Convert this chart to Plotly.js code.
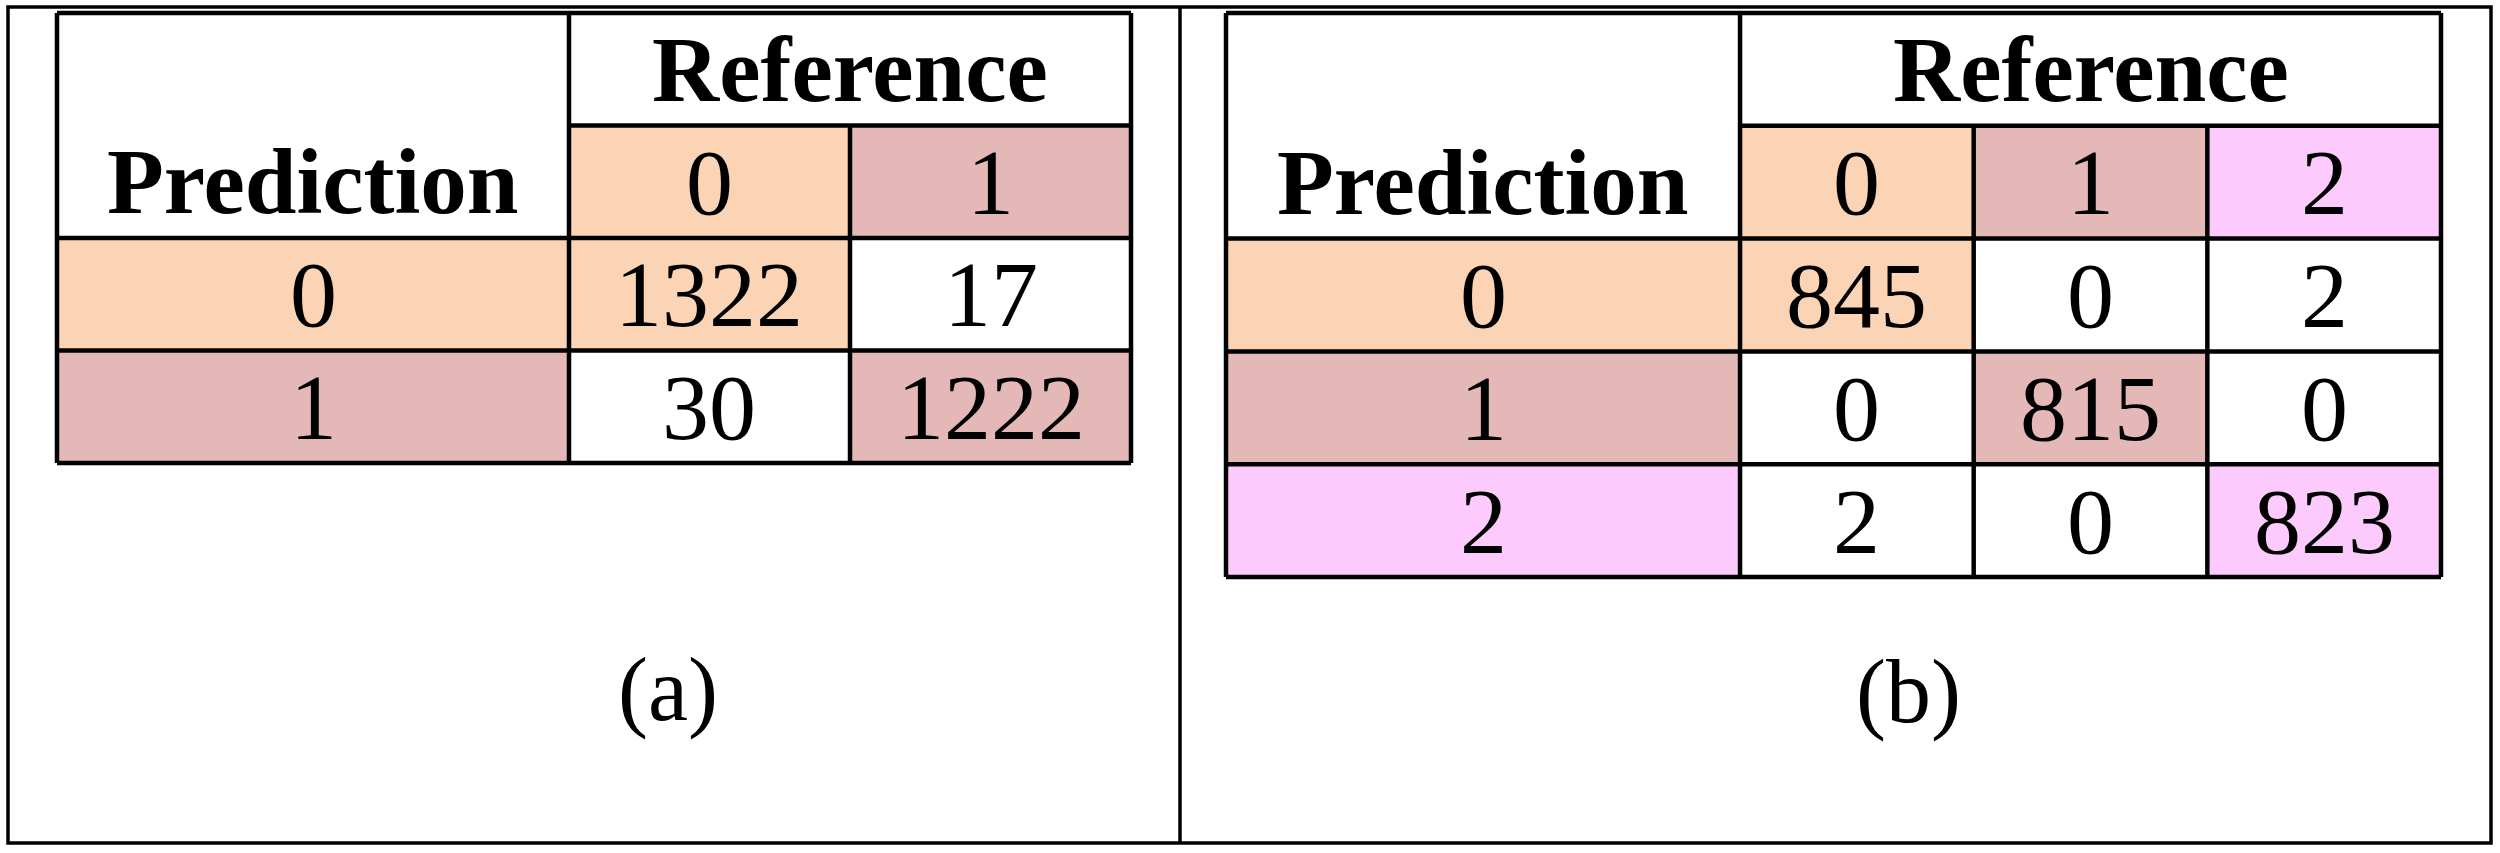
<!DOCTYPE html>
<html>
<head>
<meta charset="utf-8">
<script src="https://cdn.plot.ly/plotly-3.0.1.min.js"></script>
<style>
  html, body { margin: 0; padding: 0; background: #ffffff; }
  #chart { width: 2500px; height: 853px; }
</style>
</head>
<body>
<div id="chart"></div>
<script>
// ---------------- data ----------------
const classesA = ['0', '1'];
const matrixA = [
  [1322, 17],
  [30, 1222]
];
const classesB = ['0', '1', '2'];
const matrixB = [
  [845, 0, 2],
  [0, 815, 0],
  [2, 0, 823]
];
const classColors = ['#FAD4B4', '#E5B8B8', '#FCCAFC'];
const topHeader = 'Reference';
const sideHeader = 'Prediction';
const panelLabels = ['(a)', '(b)'];

// ---------------- layout constants ----------------
const W = 2500, H = 853;
const FONT = 'Liberation Serif';
const LINE_W = 4.5;
const PAD = 12; // px padding around table inside the axis domain

// table pixel boxes [x0, y0(top), x1, y1(bottom)] and label column width in class-column units
const tables = [
  { classes: classesA, matrix: matrixA, box: [57, 13, 1131, 463], labelW: 1.822, xa: 'x', ya: 'y', label: panelLabels[0], labelPos: [668, 690] },
  { classes: classesB, matrix: matrixB, box: [1226, 13, 2441, 577], labelW: 2.2, xa: 'x2', ya: 'y2', label: panelLabels[1], labelPos: [1909, 692] }
];

const shapes = [];
const annotations = [];
const layout = {
  width: W, height: H,
  margin: { l: 0, r: 0, t: 0, b: 0, pad: 0 },
  paper_bgcolor: '#ffffff',
  plot_bgcolor: 'rgba(0,0,0,0)',
  showlegend: false,
  hovermode: false,
  font: { family: FONT, color: '#000000' }
};

const fills = [];
const lines = [];

tables.forEach((t, ti) => {
  const n = t.classes.length;
  const totW = t.labelW + n;
  const totH = n + 2;
  const [bx0, by0, bx1, by1] = t.box;
  const pxX = (bx1 - bx0) / totW;
  const pxY = (by1 - by0) / totH;
  const padX = PAD / pxX, padY = PAD / pxY;

  const xName = ti === 0 ? 'xaxis' : 'xaxis2';
  const yName = ti === 0 ? 'yaxis' : 'yaxis2';
  layout[xName] = {
    domain: [(bx0 - PAD) / W, (bx1 + PAD) / W],
    range: [-padX, totW + padX],
    visible: false, showgrid: false, zeroline: false, fixedrange: true,
    anchor: t.ya
  };
  layout[yName] = {
    domain: [1 - (by1 + PAD) / H, 1 - (by0 - PAD) / H],
    range: [totH + padY, -padY],
    visible: false, showgrid: false, zeroline: false, fixedrange: true,
    anchor: t.xa
  };

  const rect = (x0, y0, x1, y1, color) => fills.push({
    type: 'rect', xref: t.xa, yref: t.ya, x0, y0, x1, y1,
    fillcolor: color, line: { width: 0 }, layer: 'below'
  });
  const seg = (x0, y0, x1, y1) => lines.push({
    type: 'line', xref: t.xa, yref: t.ya, x0, y0, x1, y1,
    line: { color: '#000000', width: LINE_W }, layer: 'above'
  });
  const txt = (x, y, text, bold) => annotations.push({
    xref: t.xa, yref: t.ya, x, y, text: bold ? '<b>' + text + '</b>' : text,
    showarrow: false, xanchor: 'center', yanchor: 'middle',
    font: { family: FONT, size: bold ? 93 : 94, color: '#000000' }
  });

  const L = t.labelW;
  // fills
  t.classes.forEach((c, j) => rect(L + j, 1, L + j + 1, 2, classColors[j]));      // column headers
  t.classes.forEach((c, i) => rect(0, 2 + i, L, 3 + i, classColors[i]));          // row headers
  t.matrix.forEach((row, i) => row.forEach((v, j) => {
    rect(L + j, 2 + i, L + j + 1, 3 + i, i === j ? classColors[i] : '#ffffff');
  }));

  // grid lines
  seg(0, 0, totW, 0);
  seg(0, totH, totW, totH);
  seg(0, 0, 0, totH);
  seg(totW, 0, totW, totH);
  seg(L, 0, L, totH);
  seg(L, 1, totW, 1);
  for (let r = 2; r < totH; r++) seg(0, r, totW, r);
  for (let j = 1; j < n; j++) seg(L + j, 1, L + j, totH);

  // texts
  txt(L + n / 2, 0.5, topHeader, true);
  txt(L / 2, 1.5, sideHeader, true);
  t.classes.forEach((c, j) => txt(L + j + 0.5, 1.5, c, false));
  t.classes.forEach((c, i) => txt(L / 2, 2 + i + 0.5, c, false));
  t.matrix.forEach((row, i) => row.forEach((v, j) => txt(L + j + 0.5, 2 + i + 0.5, String(v), false)));

  // panel label
  annotations.push({
    xref: 'paper', yref: 'paper',
    x: t.labelPos[0] / W, y: 1 - t.labelPos[1] / H,
    text: t.label, showarrow: false, xanchor: 'center', yanchor: 'middle',
    font: { family: FONT, size: 90, color: '#000000' }
  });
});

// outer frame and divider
const FRAME = [8, 7, 2491, 843];
const DIV_X = 1180;
shapes.push(...fills, ...lines);
shapes.push({
  type: 'rect', xref: 'paper', yref: 'paper',
  x0: FRAME[0] / W, x1: FRAME[2] / W, y0: 1 - FRAME[3] / H, y1: 1 - FRAME[1] / H,
  line: { color: '#000000', width: 3.5 }, fillcolor: 'rgba(0,0,0,0)', layer: 'above'
});
shapes.push({
  type: 'line', xref: 'paper', yref: 'paper',
  x0: DIV_X / W, x1: DIV_X / W, y0: 1 - FRAME[3] / H, y1: 1 - FRAME[1] / H,
  line: { color: '#000000', width: 3.5 }, layer: 'above'
});

layout.shapes = shapes;
layout.annotations = annotations;

// invisible anchor traces so both subplots exist
const traces = tables.map(t => ({
  type: 'scatter', mode: 'markers', x: [], y: [],
  xaxis: t.xa, yaxis: t.ya, hoverinfo: 'skip', showlegend: false
}));

Plotly.newPlot('chart', traces, layout, { displayModeBar: false, staticPlot: true });
</script>
</body>
</html>
